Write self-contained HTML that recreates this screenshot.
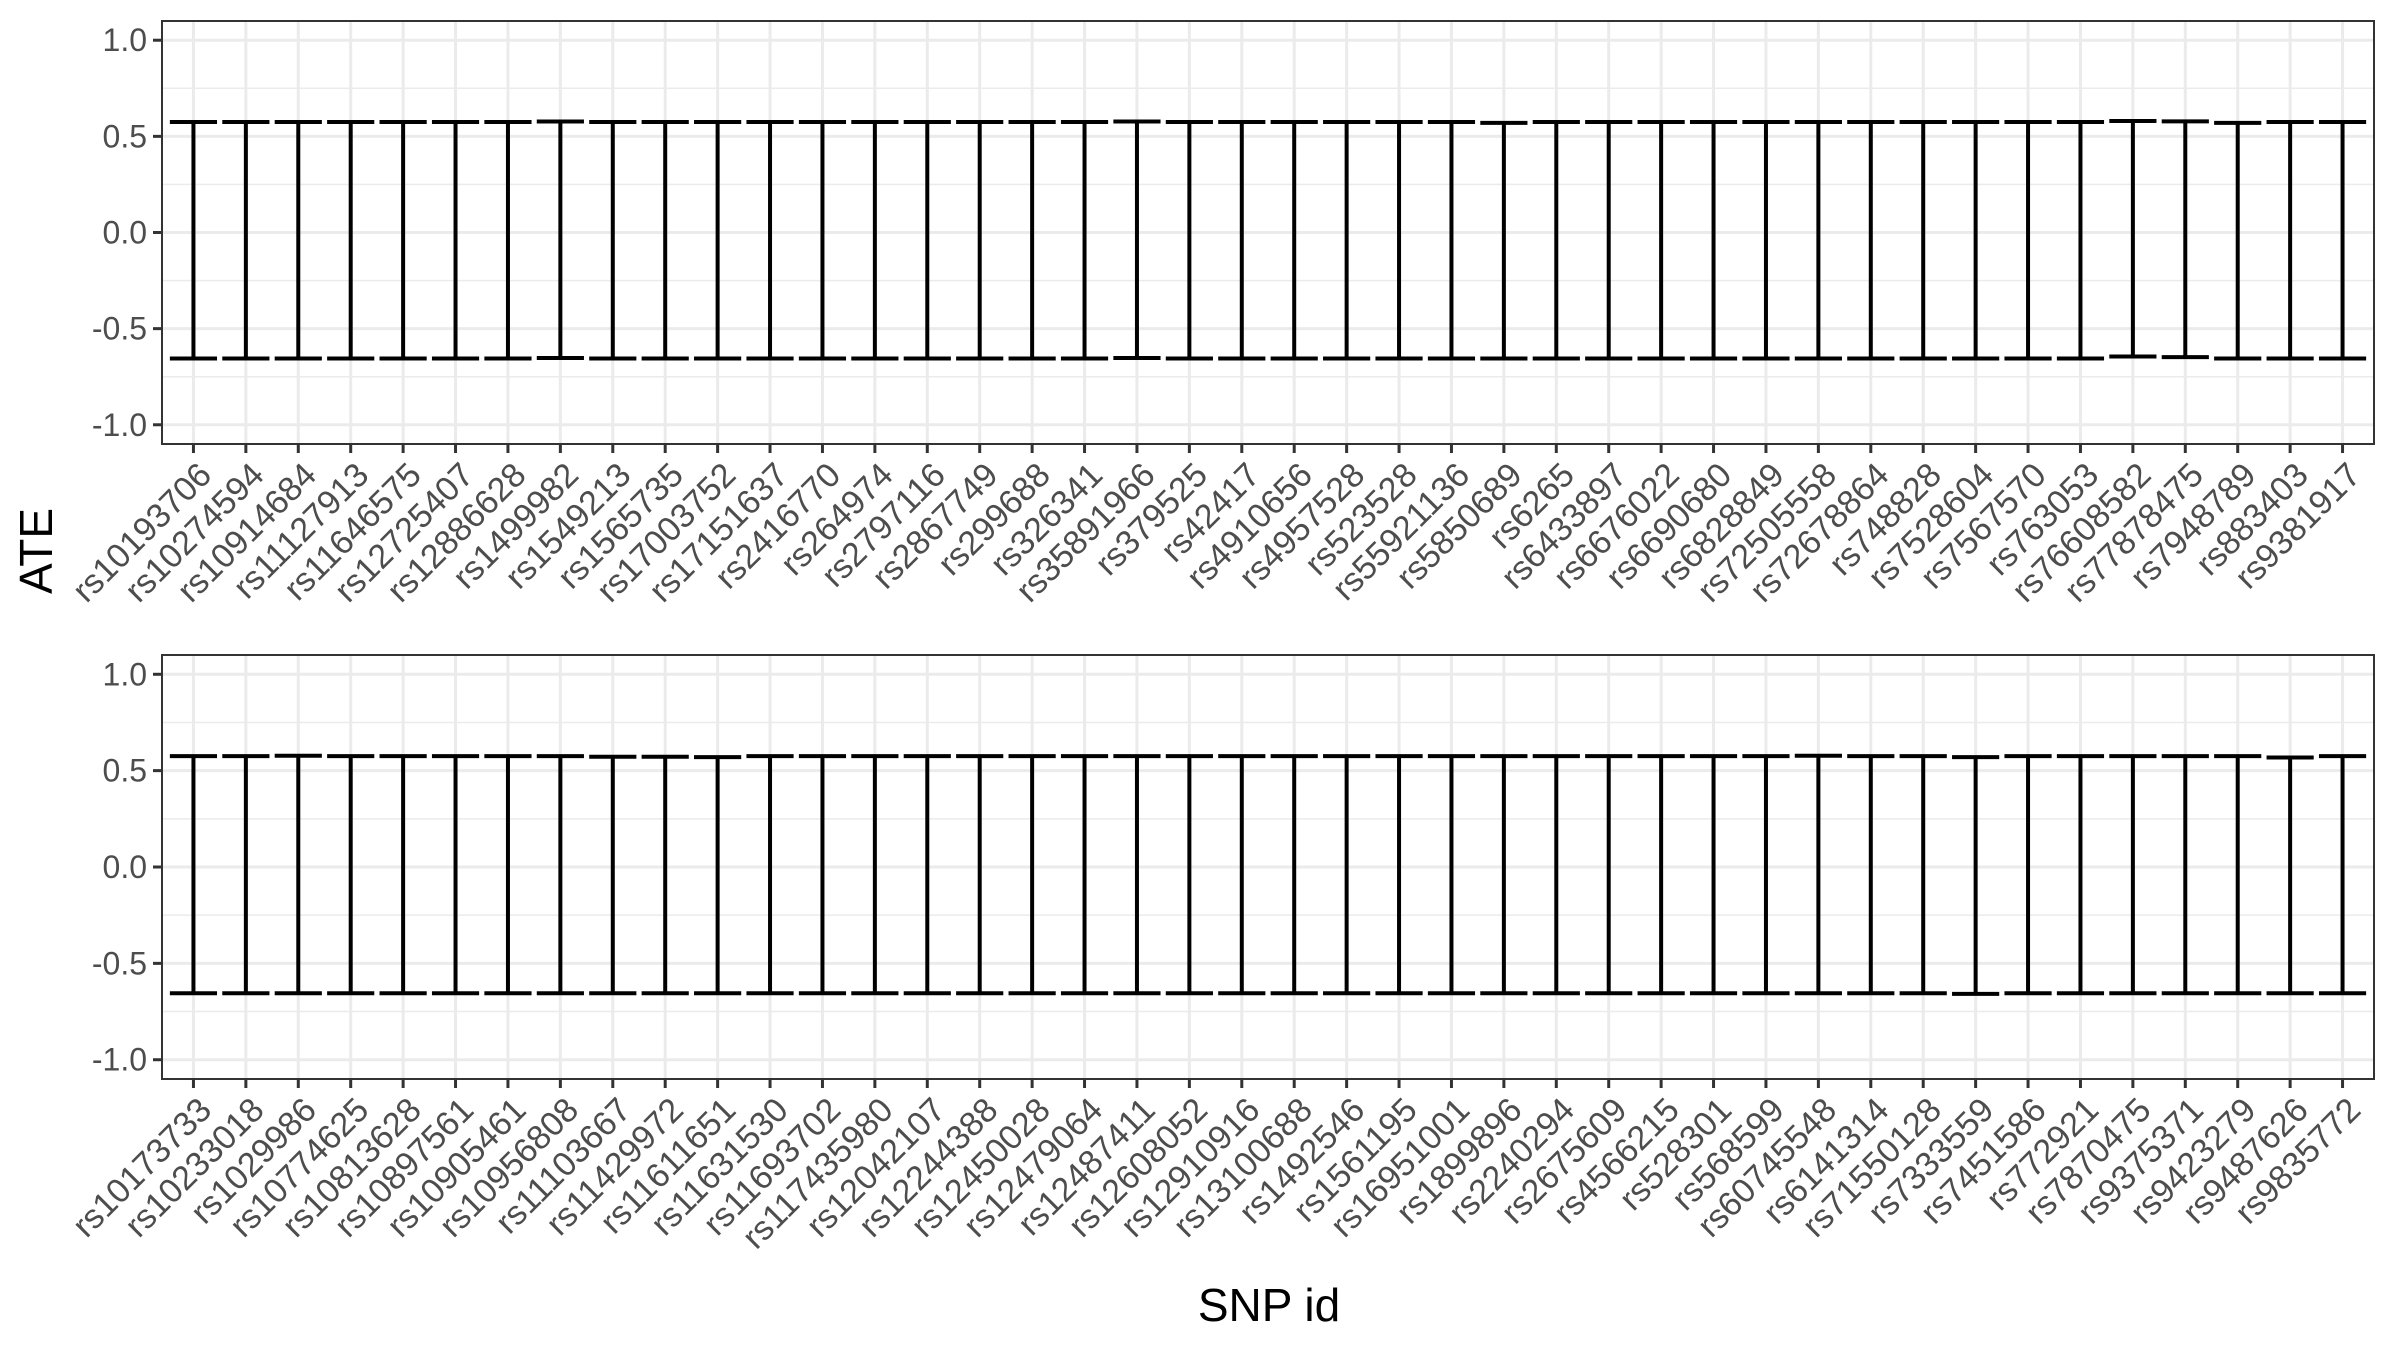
<!DOCTYPE html>
<html><head><meta charset="utf-8"><style>
html,body{margin:0;padding:0;background:#fff;}
svg{display:block;font-family:"Liberation Sans",Arial,sans-serif;}
</style></head><body>
<svg id="chart" width="2400" height="1351" viewBox="0 0 2400 1351">
<text x="52" y="551" font-size="46" fill="#000" text-anchor="middle" transform="rotate(-90 52 551)">ATE</text>
<text x="1269" y="1321" font-size="46" fill="#000" text-anchor="middle">SNP id</text>
</svg>
<script>
const topSnps = ["rs10193706","rs10274594","rs10914684","rs11127913","rs11646575","rs12725407","rs12886628","rs1499982","rs1549213","rs1565735","rs17003752","rs17151637","rs2416770","rs264974","rs2797116","rs2867749","rs299688","rs326341","rs35891966","rs379525","rs42417","rs4910656","rs4957528","rs523528","rs55921136","rs5850689","rs6265","rs6433897","rs6676022","rs6690680","rs6828849","rs72505558","rs72678864","rs748828","rs7528604","rs7567570","rs763053","rs76608582","rs77878475","rs7948789","rs883403","rs9381917"];
const topLower = [-0.655,-0.655,-0.655,-0.655,-0.655,-0.655,-0.655,-0.653,-0.655,-0.655,-0.655,-0.655,-0.655,-0.655,-0.655,-0.655,-0.655,-0.655,-0.653,-0.655,-0.655,-0.655,-0.655,-0.655,-0.655,-0.655,-0.655,-0.655,-0.655,-0.655,-0.655,-0.655,-0.655,-0.655,-0.655,-0.655,-0.655,-0.645,-0.648,-0.655,-0.655,-0.655];
const topUpper = [0.575,0.575,0.575,0.575,0.575,0.575,0.575,0.577,0.575,0.575,0.575,0.575,0.575,0.575,0.575,0.575,0.575,0.575,0.577,0.575,0.575,0.575,0.575,0.575,0.575,0.570,0.575,0.575,0.575,0.575,0.575,0.575,0.575,0.575,0.575,0.575,0.575,0.580,0.578,0.570,0.575,0.575];
const botSnps = ["rs10173733","rs10233018","rs1029986","rs10774625","rs10813628","rs10897561","rs10905461","rs10956808","rs11103667","rs11429972","rs11611651","rs11631530","rs11693702","rs117435980","rs12042107","rs12244388","rs12450028","rs12479064","rs12487411","rs12608052","rs12910916","rs13100688","rs1492546","rs1561195","rs16951001","rs1899896","rs2240294","rs2675609","rs4566215","rs528301","rs568599","rs60745548","rs6141314","rs71550128","rs7333559","rs7451586","rs772921","rs7870475","rs9375371","rs9423279","rs9487626","rs9835772"];
const botLower = [-0.655,-0.655,-0.655,-0.655,-0.655,-0.655,-0.655,-0.655,-0.655,-0.655,-0.655,-0.655,-0.655,-0.655,-0.655,-0.655,-0.655,-0.655,-0.655,-0.655,-0.655,-0.655,-0.655,-0.655,-0.655,-0.655,-0.655,-0.655,-0.655,-0.655,-0.655,-0.655,-0.655,-0.655,-0.658,-0.655,-0.655,-0.655,-0.655,-0.655,-0.655,-0.655];
const botUpper = [0.575,0.575,0.577,0.575,0.575,0.575,0.575,0.575,0.572,0.572,0.570,0.575,0.575,0.575,0.575,0.575,0.575,0.575,0.575,0.575,0.575,0.575,0.575,0.575,0.575,0.575,0.575,0.575,0.575,0.575,0.575,0.577,0.575,0.575,0.570,0.575,0.575,0.575,0.575,0.575,0.568,0.575];
const yTicks = [1.0,0.5,0.0,-0.5,-1.0];
const yTickLabels = ["1.0","0.5","0.0","-0.5","-1.0"];
const yMinor = [0.75,0.25,-0.25,-0.75];

const NS="http://www.w3.org/2000/svg";
const svg=document.getElementById('chart');
function mk(tag,attrs,parent){const e=document.createElementNS(NS,tag);for(const k in attrs)e.setAttribute(k,attrs[k]);(parent||svg).appendChild(e);return e;}

function panel(name,top,bottom,snps,lower,upper){
  const left=162,right=2374;
  const g=mk('g',{});
  
  
  const n=snps.length;
  const step=(right-left)/(n-1+1.2);
  const xs=i=>left+step*(0.6+i);
  const ymin=-1.1,ymax=1.1;
  const ys=v=>bottom-(v-ymin)/(ymax-ymin)*(bottom-top);
  yMinor.forEach(v=>{const l=mk('line',{x1:left,x2:right,y1:ys(v),y2:ys(v),stroke:'#ebebeb','stroke-width':1.5},g);
    
    });
  yTicks.forEach(v=>{const l=mk('line',{x1:left,x2:right,y1:ys(v),y2:ys(v),stroke:'#ebebeb','stroke-width':3},g);
    
    });
  snps.forEach((s,i)=>{const l=mk('line',{x1:xs(i),x2:xs(i),y1:top,y2:bottom,stroke:'#ebebeb','stroke-width':3},g);
    
    });
  const hw=step*0.45;
  snps.forEach((s,i)=>{
    const eg=mk('g',{stroke:'#000','stroke-width':4,fill:'none'},g);
    
    
    mk('line',{x1:xs(i),x2:xs(i),y1:ys(upper[i]),y2:ys(lower[i])},eg);
    mk('line',{x1:xs(i)-hw,x2:xs(i)+hw,y1:ys(upper[i]),y2:ys(upper[i])},eg);
    mk('line',{x1:xs(i)-hw,x2:xs(i)+hw,y1:ys(lower[i]),y2:ys(lower[i])},eg);
  });
  const b=mk('rect',{x:left,y:top,width:right-left,height:bottom-top,fill:'none',stroke:'#333','stroke-width':2},g);
  
  
  yTicks.forEach((v,i)=>{
    mk('line',{x1:left-9,x2:left,y1:ys(v),y2:ys(v),stroke:'#333','stroke-width':3},g);
    const t=mk('text',{x:left-15,y:ys(v)+11,'font-size':32,fill:'#4d4d4d','text-anchor':'end'},g);
    t.textContent=yTickLabels[i];
    
    
  });
  snps.forEach((s,i)=>{
    mk('line',{x1:xs(i),x2:xs(i),y1:bottom,y2:bottom+9,stroke:'#333','stroke-width':3},g);
    const ax=xs(i)+20, ay=bottom+33;
    const t=mk('text',{x:ax,y:ay,'font-size':34,fill:'#4d4d4d','text-anchor':'end',transform:`rotate(-45 ${ax} ${ay})`},g);
    t.textContent=s;
    
    
  });
}
panel('top-panel',21,444,topSnps,topLower,topUpper);
panel('bottom-panel',655,1079,botSnps,botLower,botUpper);
</script>
</body></html>
